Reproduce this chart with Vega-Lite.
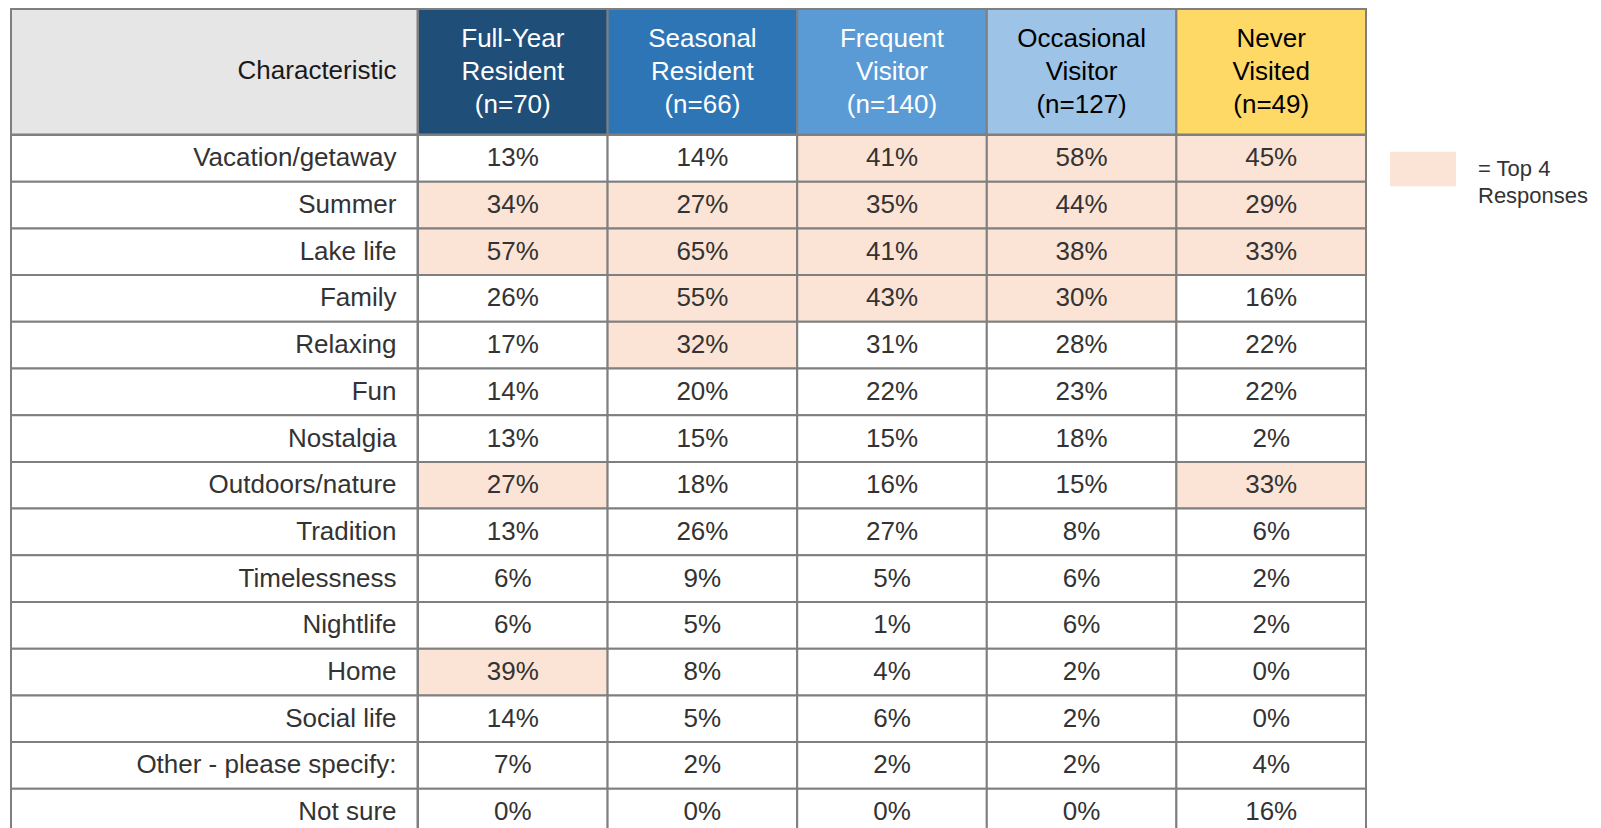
{
  "$schema": "https://vega.github.io/schema/vega-lite/v6.json",
  "padding": {"left": 10, "top": 8, "right": 0, "bottom": 0},
  "autosize": {"type": "pad"},
  "background": "white",
  "bounds": "flush",
  "spacing": 0,
  "columns": 2,
  "resolve": {"scale": {"fill": "independent", "color": "independent", "x": "independent", "y": "independent"}, "legend": {"fill": "independent"}},
  "config": {"view": {"stroke": null}, "font": "Liberation Sans", "style": {"guide-label": {"lineHeight": 27}}},
  "datasets": {
    "headers": [
      {"segment": "Full-Year Resident", "header": "Full-Year\nResident\n(n=70)"},
      {"segment": "Seasonal Resident", "header": "Seasonal\nResident\n(n=66)"},
      {"segment": "Frequent Visitor", "header": "Frequent\nVisitor\n(n=140)"},
      {"segment": "Occasional Visitor", "header": "Occasional\nVisitor\n(n=127)"},
      {"segment": "Never Visited", "header": "Never\nVisited\n(n=49)"}
    ],
    "rows": [
      {"characteristic": "Vacation/getaway", "segment": "Full-Year Resident", "share": 0.13, "top4": "Other"},
      {"characteristic": "Vacation/getaway", "segment": "Seasonal Resident", "share": 0.14, "top4": "Other"},
      {"characteristic": "Vacation/getaway", "segment": "Frequent Visitor", "share": 0.41, "top4": "Top 4"},
      {"characteristic": "Vacation/getaway", "segment": "Occasional Visitor", "share": 0.58, "top4": "Top 4"},
      {"characteristic": "Vacation/getaway", "segment": "Never Visited", "share": 0.45, "top4": "Top 4"},
      {"characteristic": "Summer", "segment": "Full-Year Resident", "share": 0.34, "top4": "Top 4"},
      {"characteristic": "Summer", "segment": "Seasonal Resident", "share": 0.27, "top4": "Top 4"},
      {"characteristic": "Summer", "segment": "Frequent Visitor", "share": 0.35, "top4": "Top 4"},
      {"characteristic": "Summer", "segment": "Occasional Visitor", "share": 0.44, "top4": "Top 4"},
      {"characteristic": "Summer", "segment": "Never Visited", "share": 0.29, "top4": "Top 4"},
      {"characteristic": "Lake life", "segment": "Full-Year Resident", "share": 0.57, "top4": "Top 4"},
      {"characteristic": "Lake life", "segment": "Seasonal Resident", "share": 0.65, "top4": "Top 4"},
      {"characteristic": "Lake life", "segment": "Frequent Visitor", "share": 0.41, "top4": "Top 4"},
      {"characteristic": "Lake life", "segment": "Occasional Visitor", "share": 0.38, "top4": "Top 4"},
      {"characteristic": "Lake life", "segment": "Never Visited", "share": 0.33, "top4": "Top 4"},
      {"characteristic": "Family", "segment": "Full-Year Resident", "share": 0.26, "top4": "Other"},
      {"characteristic": "Family", "segment": "Seasonal Resident", "share": 0.55, "top4": "Top 4"},
      {"characteristic": "Family", "segment": "Frequent Visitor", "share": 0.43, "top4": "Top 4"},
      {"characteristic": "Family", "segment": "Occasional Visitor", "share": 0.30, "top4": "Top 4"},
      {"characteristic": "Family", "segment": "Never Visited", "share": 0.16, "top4": "Other"},
      {"characteristic": "Relaxing", "segment": "Full-Year Resident", "share": 0.17, "top4": "Other"},
      {"characteristic": "Relaxing", "segment": "Seasonal Resident", "share": 0.32, "top4": "Top 4"},
      {"characteristic": "Relaxing", "segment": "Frequent Visitor", "share": 0.31, "top4": "Other"},
      {"characteristic": "Relaxing", "segment": "Occasional Visitor", "share": 0.28, "top4": "Other"},
      {"characteristic": "Relaxing", "segment": "Never Visited", "share": 0.22, "top4": "Other"},
      {"characteristic": "Fun", "segment": "Full-Year Resident", "share": 0.14, "top4": "Other"},
      {"characteristic": "Fun", "segment": "Seasonal Resident", "share": 0.20, "top4": "Other"},
      {"characteristic": "Fun", "segment": "Frequent Visitor", "share": 0.22, "top4": "Other"},
      {"characteristic": "Fun", "segment": "Occasional Visitor", "share": 0.23, "top4": "Other"},
      {"characteristic": "Fun", "segment": "Never Visited", "share": 0.22, "top4": "Other"},
      {"characteristic": "Nostalgia", "segment": "Full-Year Resident", "share": 0.13, "top4": "Other"},
      {"characteristic": "Nostalgia", "segment": "Seasonal Resident", "share": 0.15, "top4": "Other"},
      {"characteristic": "Nostalgia", "segment": "Frequent Visitor", "share": 0.15, "top4": "Other"},
      {"characteristic": "Nostalgia", "segment": "Occasional Visitor", "share": 0.18, "top4": "Other"},
      {"characteristic": "Nostalgia", "segment": "Never Visited", "share": 0.02, "top4": "Other"},
      {"characteristic": "Outdoors/nature", "segment": "Full-Year Resident", "share": 0.27, "top4": "Top 4"},
      {"characteristic": "Outdoors/nature", "segment": "Seasonal Resident", "share": 0.18, "top4": "Other"},
      {"characteristic": "Outdoors/nature", "segment": "Frequent Visitor", "share": 0.16, "top4": "Other"},
      {"characteristic": "Outdoors/nature", "segment": "Occasional Visitor", "share": 0.15, "top4": "Other"},
      {"characteristic": "Outdoors/nature", "segment": "Never Visited", "share": 0.33, "top4": "Top 4"},
      {"characteristic": "Tradition", "segment": "Full-Year Resident", "share": 0.13, "top4": "Other"},
      {"characteristic": "Tradition", "segment": "Seasonal Resident", "share": 0.26, "top4": "Other"},
      {"characteristic": "Tradition", "segment": "Frequent Visitor", "share": 0.27, "top4": "Other"},
      {"characteristic": "Tradition", "segment": "Occasional Visitor", "share": 0.08, "top4": "Other"},
      {"characteristic": "Tradition", "segment": "Never Visited", "share": 0.06, "top4": "Other"},
      {"characteristic": "Timelessness", "segment": "Full-Year Resident", "share": 0.06, "top4": "Other"},
      {"characteristic": "Timelessness", "segment": "Seasonal Resident", "share": 0.09, "top4": "Other"},
      {"characteristic": "Timelessness", "segment": "Frequent Visitor", "share": 0.05, "top4": "Other"},
      {"characteristic": "Timelessness", "segment": "Occasional Visitor", "share": 0.06, "top4": "Other"},
      {"characteristic": "Timelessness", "segment": "Never Visited", "share": 0.02, "top4": "Other"},
      {"characteristic": "Nightlife", "segment": "Full-Year Resident", "share": 0.06, "top4": "Other"},
      {"characteristic": "Nightlife", "segment": "Seasonal Resident", "share": 0.05, "top4": "Other"},
      {"characteristic": "Nightlife", "segment": "Frequent Visitor", "share": 0.01, "top4": "Other"},
      {"characteristic": "Nightlife", "segment": "Occasional Visitor", "share": 0.06, "top4": "Other"},
      {"characteristic": "Nightlife", "segment": "Never Visited", "share": 0.02, "top4": "Other"},
      {"characteristic": "Home", "segment": "Full-Year Resident", "share": 0.39, "top4": "Top 4"},
      {"characteristic": "Home", "segment": "Seasonal Resident", "share": 0.08, "top4": "Other"},
      {"characteristic": "Home", "segment": "Frequent Visitor", "share": 0.04, "top4": "Other"},
      {"characteristic": "Home", "segment": "Occasional Visitor", "share": 0.02, "top4": "Other"},
      {"characteristic": "Home", "segment": "Never Visited", "share": 0.00, "top4": "Other"},
      {"characteristic": "Social life", "segment": "Full-Year Resident", "share": 0.14, "top4": "Other"},
      {"characteristic": "Social life", "segment": "Seasonal Resident", "share": 0.05, "top4": "Other"},
      {"characteristic": "Social life", "segment": "Frequent Visitor", "share": 0.06, "top4": "Other"},
      {"characteristic": "Social life", "segment": "Occasional Visitor", "share": 0.02, "top4": "Other"},
      {"characteristic": "Social life", "segment": "Never Visited", "share": 0.00, "top4": "Other"},
      {"characteristic": "Other - please specify:", "segment": "Full-Year Resident", "share": 0.07, "top4": "Other"},
      {"characteristic": "Other - please specify:", "segment": "Seasonal Resident", "share": 0.02, "top4": "Other"},
      {"characteristic": "Other - please specify:", "segment": "Frequent Visitor", "share": 0.02, "top4": "Other"},
      {"characteristic": "Other - please specify:", "segment": "Occasional Visitor", "share": 0.02, "top4": "Other"},
      {"characteristic": "Other - please specify:", "segment": "Never Visited", "share": 0.04, "top4": "Other"},
      {"characteristic": "Not sure", "segment": "Full-Year Resident", "share": 0.00, "top4": "Other"},
      {"characteristic": "Not sure", "segment": "Seasonal Resident", "share": 0.00, "top4": "Other"},
      {"characteristic": "Not sure", "segment": "Frequent Visitor", "share": 0.00, "top4": "Other"},
      {"characteristic": "Not sure", "segment": "Occasional Visitor", "share": 0.00, "top4": "Other"},
      {"characteristic": "Not sure", "segment": "Never Visited", "share": 0.16, "top4": "Other"}
    ]
  },
  "concat": [
    {
      "width": 406.5,
      "height": 125.5,
      "data": {"values": [{"heading": "Characteristic"}]},
      "encoding": {
        "y": {"field": "heading", "type": "nominal", "axis": null, "scale": {"paddingInner": 0, "paddingOuter": 0}}
      },
      "layer": [
        {
          "mark": {"type": "rect", "fill": "#e6e6e6", "stroke": "#7f7f7f", "strokeWidth": 2},
          "encoding": {"x": {"field": "heading", "type": "nominal", "axis": null, "scale": {"paddingInner": 0, "paddingOuter": 0}}}
        },
        {
          "mark": {"type": "text", "align": "right", "baseline": "middle", "dx": -21, "dy": -1, "fontSize": 26, "fill": "#1a1a1a"},
          "encoding": {
            "x": {"field": "heading", "type": "nominal", "axis": null, "bandPosition": 1, "scale": {"paddingInner": 0, "paddingOuter": 0}},
            "text": {"field": "heading"}
          }
        }
      ]
    },
    {
      "width": 948,
      "height": 125.5,
      "data": {"name": "headers"},
      "encoding": {
        "x": {"field": "segment", "type": "nominal", "axis": null, "sort": ["Full-Year Resident", "Seasonal Resident", "Frequent Visitor", "Occasional Visitor", "Never Visited"], "scale": {"paddingInner": 0, "paddingOuter": 0}}
      },
      "layer": [
        {
          "mark": {"type": "rect", "stroke": "#7f7f7f", "strokeWidth": 2, "opacity": 1},
          "encoding": {
            "fill": {"field": "segment", "type": "nominal", "legend": null, "scale": {"domain": ["Full-Year Resident", "Seasonal Resident", "Frequent Visitor", "Occasional Visitor", "Never Visited"], "range": ["#1f4e79", "#2e75b6", "#5b9bd5", "#9dc3e6", "#ffd966"]}}
          }
        },
        {
          "mark": {"type": "text", "align": "center", "baseline": "middle", "fontSize": 26, "lineBreak": "\n", "lineHeight": 33, "dy": -33},
          "encoding": {
            "text": {"field": "header"},
            "color": {"condition": {"test": "datum.segment === 'Occasional Visitor' || datum.segment === 'Never Visited'", "value": "#000000"}, "value": "#ffffff"}
          }
        }
      ]
    },
    {
      "width": 406.5,
      "height": 700.5,
      "data": {"name": "rows"},
      "transform": [{"filter": "datum.segment === 'Full-Year Resident'"}],
      "encoding": {
        "y": {"field": "characteristic", "type": "nominal", "axis": null, "sort": null, "scale": {"paddingInner": 0, "paddingOuter": 0}}
      },
      "layer": [
        {
          "mark": {"type": "rect", "fill": "#ffffff", "stroke": "#7f7f7f", "strokeWidth": 2}
        },
        {
          "mark": {"type": "text", "align": "right", "baseline": "middle", "dx": -21, "fontSize": 26, "fill": "#333333"},
          "encoding": {"x": {"value": "width"}, "text": {"field": "characteristic"}}
        }
      ]
    },
    {
      "width": 948,
      "height": 700.5,
      "data": {"name": "rows"},
      "encoding": {
        "x": {"field": "segment", "type": "nominal", "axis": null, "sort": ["Full-Year Resident", "Seasonal Resident", "Frequent Visitor", "Occasional Visitor", "Never Visited"], "scale": {"paddingInner": 0, "paddingOuter": 0}},
        "y": {"field": "characteristic", "type": "nominal", "axis": null, "sort": null, "scale": {"paddingInner": 0, "paddingOuter": 0}}
      },
      "layer": [
        {
          "mark": {"type": "rect", "stroke": "#7f7f7f", "strokeWidth": 2, "opacity": 1},
          "encoding": {
            "fill": {
              "field": "top4",
              "type": "nominal",
              "scale": {"domain": ["Top 4", "Other"], "range": ["#fbe4d5", "#ffffff"]},
              "legend": {
                "orient": "none",
                "legendX": 972,
                "legendY": 1,
                "values": ["Top 4"],
                "title": null,
                "symbolType": "M-1,-0.52H1V0.52H-1Z",
                "symbolSize": 4356,
                "symbolStrokeWidth": 0,
                "symbolOpacity": 1,
                "labelExpr": "['= Top 4', 'Responses']",
                "labelFont": "Liberation Sans",
                "labelFontSize": 22,
                "labelColor": "#333333",
                "labelOffset": 22,
                "labelLimit": 300,
                "padding": 0
              }
            }
          }
        },
        {
          "mark": {"type": "text", "align": "center", "baseline": "middle", "fontSize": 26, "fill": "#333333"},
          "encoding": {"text": {"field": "share", "type": "quantitative", "format": ".0%"}}
        }
      ]
    }
  ]
}
